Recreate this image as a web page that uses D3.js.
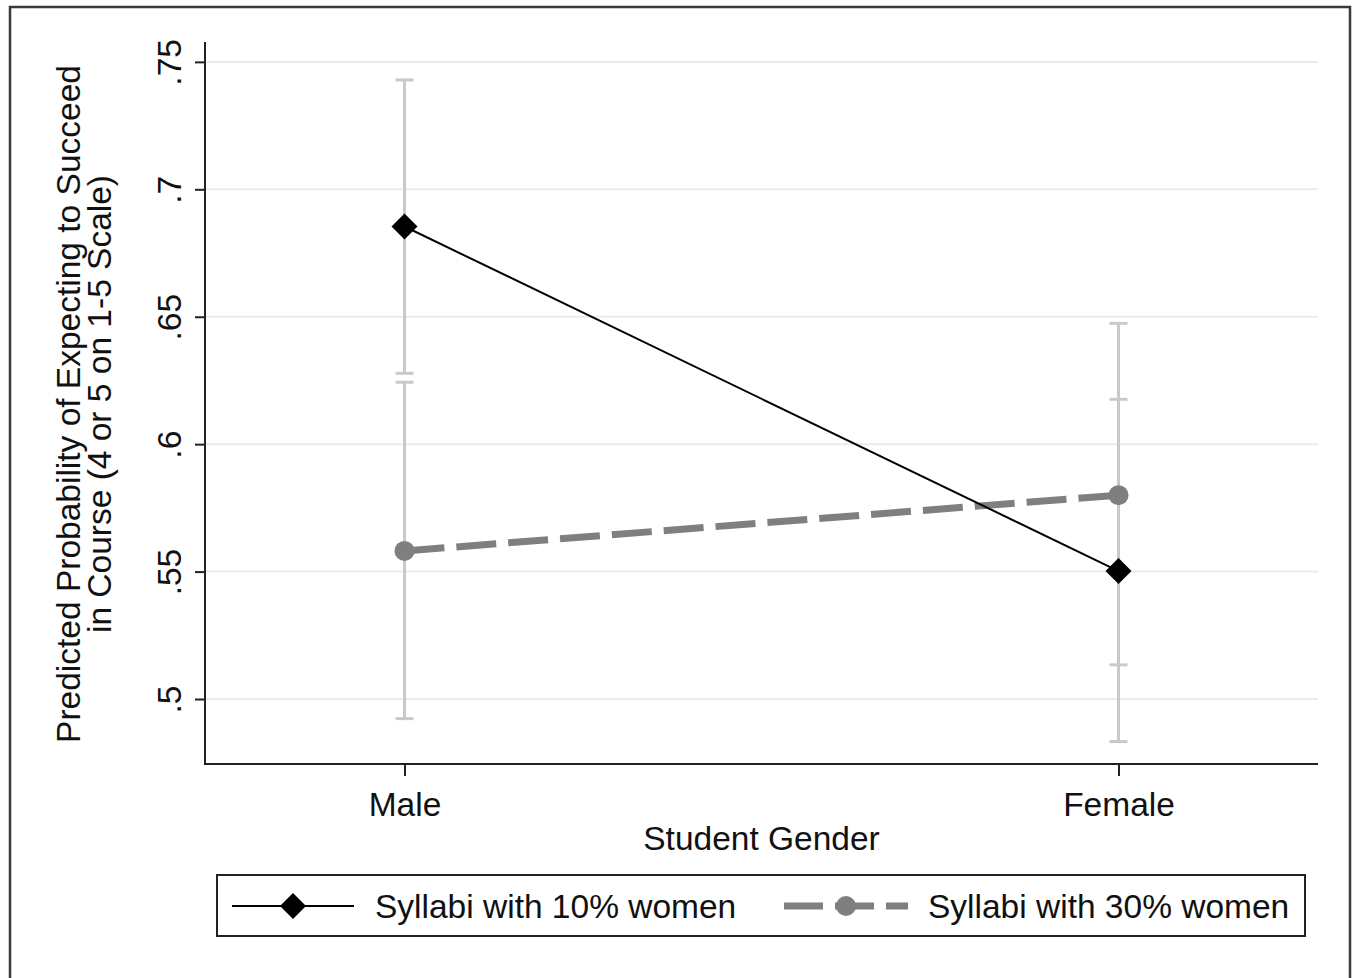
<!DOCTYPE html>
<html>
<head>
<meta charset="utf-8">
<script src="https://cdn.jsdelivr.net/npm/d3@7"></script>
<style>
  html, body { margin: 0; padding: 0; background: #fff; }
  svg { display: block; font-family: "Liberation Sans", Arial, sans-serif; }
</style>
</head>
<body>
<svg id="chart" width="1354" height="978"></svg>
<script>
// Student gender categories on the x axis
const genders = ["Male", "Female"];

// Predicted probabilities and 95% confidence limits, by syllabus composition
const est10 = [0.6854, 0.5502];
const lo10  = [0.6278, 0.4833];
const hi10  = [0.7429, 0.6176];

const est30 = [0.5581, 0.5800];
const lo30  = [0.4923, 0.5134];
const hi30  = [0.6243, 0.6474];

const seriesNames = ["Syllabi with 10% women", "Syllabi with 30% women"];

// y-axis ticks and their printed labels
const yTicks = [0.5, 0.55, 0.6, 0.65, 0.7, 0.75];
const yTickLabels = [".5", ".55", ".6", ".65", ".7", ".75"];

const yTitle = ["Predicted Probability of Expecting to Succeed", "in Course (4 or 5 on 1-5 Scale)"];
const xTitle = "Student Gender";

const svg = d3.select("#chart");
const plot = { left: 205, right: 1318, top: 42, bottom: 764 };

const FONT = 33.5;

// outer frame
svg.append("rect")
  .attr("x", 10).attr("y", 7)
  .attr("width", 1340).attr("height", 990)
  .attr("fill", "#fff").attr("stroke", "#3a3a3a").attr("stroke-width", 2.5);

const x = d3.scalePoint()
  .domain(genders)
  .range([plot.left, plot.right])
  .padding(0.2794);

const y = d3.scaleLinear()
  .domain([0.4745, 0.7578])
  .range([plot.bottom, plot.top]);

// gridlines
svg.append("g").selectAll("line")
  .data(yTicks)
  .join("line")
  .attr("x1", plot.left).attr("x2", plot.right)
  .attr("y1", d => y(d)).attr("y2", d => y(d))
  .attr("stroke", "#e7edef").attr("stroke-width", 2);

// y axis
const yAxis = d3.axisLeft(y)
  .tickValues(yTicks)
  .tickFormat((d, i) => yTickLabels[i])
  .tickSize(10)
  .tickPadding(0);

const gy = svg.append("g")
  .attr("transform", `translate(${plot.left},0)`)
  .call(yAxis);
gy.select(".domain").remove();
gy.selectAll(".tick line").attr("stroke", "#222").attr("stroke-width", 2);
gy.selectAll(".tick text")
  .attr("x", 0).attr("y", 0).attr("dy", null)
  .attr("text-anchor", "middle")
  .attr("transform", "translate(-24,0) rotate(-90)")
  .attr("font-size", FONT)
  .attr("font-family", "Liberation Sans, Arial, sans-serif")
  .attr("fill", "#111");

svg.append("line")
  .attr("x1", plot.left).attr("x2", plot.left)
  .attr("y1", plot.top).attr("y2", plot.bottom + 1)
  .attr("stroke", "#222").attr("stroke-width", 2);

// x axis
const xAxis = d3.axisBottom(x).tickSize(12).tickPadding(16);
const gx = svg.append("g")
  .attr("transform", `translate(0,${plot.bottom})`)
  .call(xAxis);
gx.select(".domain").remove();
gx.selectAll(".tick line").attr("stroke", "#222").attr("stroke-width", 2);
gx.selectAll(".tick text")
  .attr("font-size", FONT)
  .attr("font-family", "Liberation Sans, Arial, sans-serif")
  .attr("fill", "#111");

svg.append("line")
  .attr("x1", plot.left - 1).attr("x2", plot.right)
  .attr("y1", plot.bottom).attr("y2", plot.bottom)
  .attr("stroke", "#222").attr("stroke-width", 2);

// axis titles
const yt = svg.append("text")
  .attr("transform", `translate(80,${(plot.top + plot.bottom) / 2 + 1}) rotate(-90)`)
  .attr("text-anchor", "middle")
  .attr("font-size", FONT)
  .attr("fill", "#111");
yt.selectAll("tspan")
  .data(yTitle)
  .join("tspan")
  .attr("x", 0)
  .attr("dy", (d, i) => i === 0 ? 0 : 31)
  .text(d => d);

svg.append("text")
  .attr("x", (plot.left + plot.right) / 2)
  .attr("y", 850)
  .attr("text-anchor", "middle")
  .attr("font-size", FONT)
  .attr("fill", "#111")
  .text(xTitle);

// confidence intervals
const capHalf = 9;
const ciData = genders.flatMap((g, i) => [
  { g, lo: lo10[i], hi: hi10[i] },
  { g, lo: lo30[i], hi: hi30[i] }
]);
const ci = svg.append("g").attr("stroke", "#c9c9c9").attr("stroke-width", 3);
ci.selectAll("line.bar")
  .data(ciData)
  .join("line")
  .attr("class", "bar")
  .attr("x1", d => x(d.g)).attr("x2", d => x(d.g))
  .attr("y1", d => y(d.lo)).attr("y2", d => y(d.hi));
ci.selectAll("line.cap")
  .data(ciData.flatMap(d => [{ g: d.g, v: d.lo }, { g: d.g, v: d.hi }]))
  .join("line")
  .attr("class", "cap")
  .attr("x1", d => x(d.g) - capHalf).attr("x2", d => x(d.g) + capHalf)
  .attr("y1", d => y(d.v)).attr("y2", d => y(d.v));

// series lines
const line = d3.line().x(d => x(d.g)).y(d => y(d.v));
const pts10 = genders.map((g, i) => ({ g, v: est10[i] }));
const pts30 = genders.map((g, i) => ({ g, v: est30[i] }));

const GREY = "#7f7f7f";
const DASH = "40,12";

svg.append("path")
  .datum(pts30)
  .attr("d", line)
  .attr("fill", "none")
  .attr("stroke", GREY)
  .attr("stroke-width", 7)
  .attr("stroke-dasharray", DASH);

svg.append("path")
  .datum(pts10)
  .attr("d", line)
  .attr("fill", "none")
  .attr("stroke", "#000")
  .attr("stroke-width", 2);

// markers
const diamond = s => `M0,${-s}L${s},0L0,${s}L${-s},0Z`;
svg.append("g").selectAll("circle")
  .data(pts30)
  .join("circle")
  .attr("cx", d => x(d.g)).attr("cy", d => y(d.v))
  .attr("r", 10)
  .attr("fill", GREY);

svg.append("g").selectAll("path")
  .data(pts10)
  .join("path")
  .attr("transform", d => `translate(${x(d.g)},${y(d.v)})`)
  .attr("d", diamond(13))
  .attr("fill", "#000");

// legend
const lg = svg.append("g");
lg.append("rect")
  .attr("x", 217).attr("y", 875)
  .attr("width", 1088).attr("height", 61)
  .attr("fill", "#fff").attr("stroke", "#222").attr("stroke-width", 2);

const ly = 906;
lg.append("line")
  .attr("x1", 232).attr("x2", 354).attr("y1", ly).attr("y2", ly)
  .attr("stroke", "#000").attr("stroke-width", 2);
lg.append("path")
  .attr("transform", `translate(293,${ly})`)
  .attr("d", diamond(13))
  .attr("fill", "#000");
lg.append("text")
  .attr("x", 375).attr("y", ly + 12)
  .attr("font-size", FONT).attr("fill", "#111")
  .text(seriesNames[0]);

lg.append("line")
  .attr("x1", 784).attr("x2", 908).attr("y1", ly).attr("y2", ly)
  .attr("stroke", GREY).attr("stroke-width", 7)
  .attr("stroke-dasharray", "39,12");
lg.append("circle")
  .attr("cx", 846).attr("cy", ly).attr("r", 10)
  .attr("fill", GREY);
lg.append("text")
  .attr("x", 928).attr("y", ly + 12)
  .attr("font-size", FONT).attr("fill", "#111")
  .text(seriesNames[1]);
</script>
</body>
</html>
